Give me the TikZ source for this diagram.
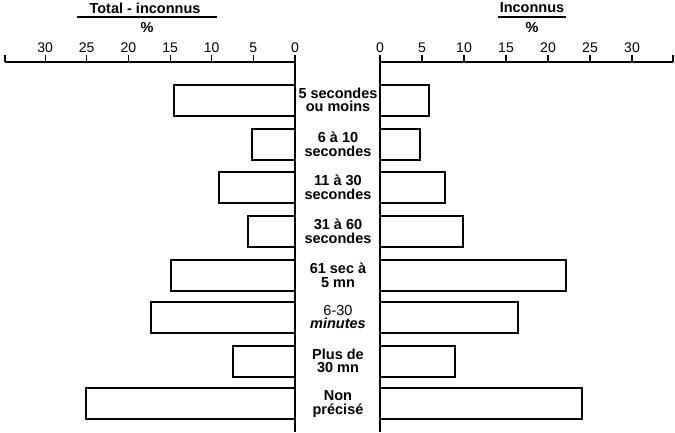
\documentclass[tikz,border=0pt]{standalone}
\usepackage{fontspec}
\setmainfont{Liberation Sans}
\begin{document}
\begin{tikzpicture}[x=1pt,y=-1pt,line width=1.1pt,
  bar/.style={draw,line width=1.1pt},
  lab/.style={font=\bfseries\fontsize{14.5}{13.5}\selectfont,align=center,inner sep=0pt},
  tk/.style={font=\fontsize{14}{14}\selectfont,inner sep=0pt}]
\useasboundingbox (0,0) rectangle (675,432);
% axes
\coordinate (la) at (5,62); \coordinate (lz) at (295,62);
\coordinate (rz) at (380,62); \coordinate (ra) at (673,62);
\draw (la) -- (lz); \draw (rz) -- (ra);
\draw (5,55) -- (la);
\foreach \v in {0,5,...,30}{
  \draw (295-8.33*\v,55) -- (295-8.33*\v,62);
  \node[tk] at (295-8.33*\v,48) {\v};
  \draw (380+8.4*\v,55) -- (380+8.4*\v,62);
  \node[tk] at (380+8.4*\v,48) {\v};}
\draw (673,55) -- (ra);
\draw (lz) -- (295,432); \draw (rz) -- (380,432);
% headers
\node[lab] (h1) at (145,8) {Total - inconnus};
\draw (77,17) -- (217,17);
\node[lab] (p1) at (147,28) {\%};
\node[lab] (h2) at (532,8) {Inconnus};
\draw (498,17) -- (566,17);
\node[lab] (p2) at (532,28) {\%};
% bars
\foreach \t/\l/\r in {85/174/429,129/252/420,172/219/445,216/248/463,260/171/566,302/151/518,346/233/455,388/86/582}{
  \draw[bar] (295,\t) -- (\l,\t) -- (\l,\t+31) -- (295,\t+31);
  \draw[bar] (380,\t) -- (\r,\t) -- (\r,\t+31) -- (380,\t+31);}
% labels
\node[lab] (c1) at (338,100) {5 secondes\\ou moins};
\node[lab] (c2) at (338,144) {6 à 10\\secondes};
\node[lab] (c3) at (338,187) {11 à 30\\secondes};
\node[lab] (c4) at (338,231) {31 à 60\\secondes};
\node[lab] (c5) at (338,275) {61 sec à\\5 mn};
\node[lab] (c6) at (338,317) {\mdseries 6-30\\\itshape minutes};
\node[lab] (c7) at (338,361) {Plus de\\30 mn};
\node[lab] (c8) at (338,404) {Non\\précisé};
\end{tikzpicture}
\end{document}
